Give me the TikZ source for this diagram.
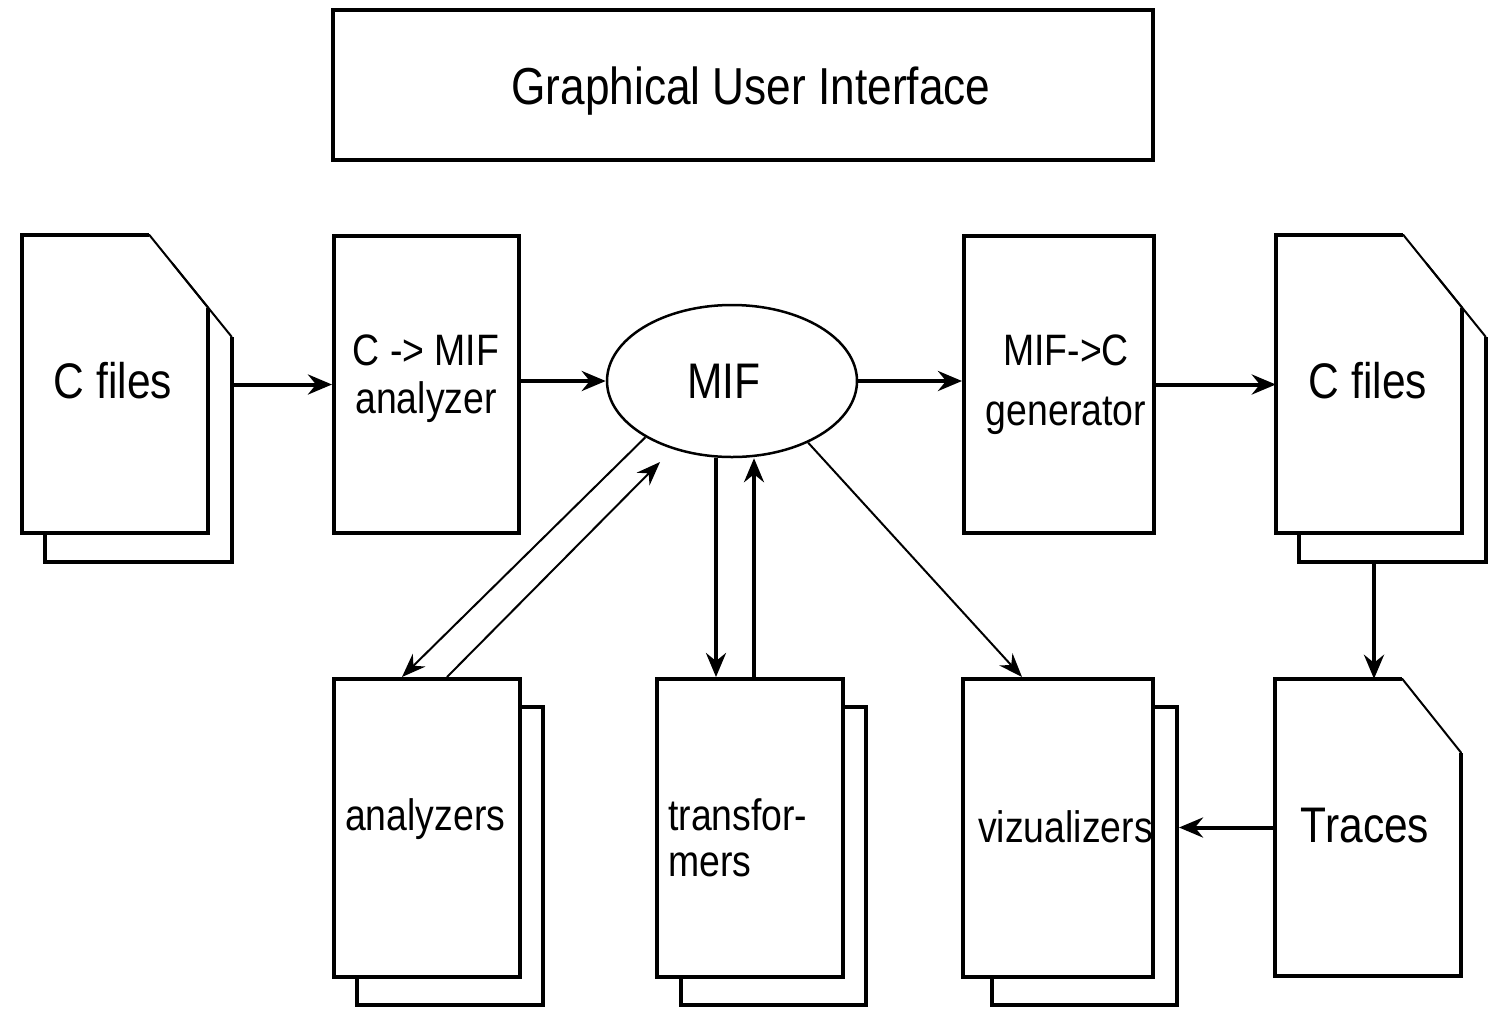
\documentclass[tikz,border=0pt]{standalone}
\usepackage{fontspec}
\setmainfont{Liberation Sans}[FakeStretch=0.85]
\usetikzlibrary{arrows.meta,shapes.geometric,calc}
\tikzset{
  pg/.style={draw, line width=4pt, fill=white, inner sep=0pt, minimum width=186pt, minimum height=298pt},
  ghost/.style={draw=none, inner sep=0pt, minimum width=186pt, minimum height=298pt},
  foldedge/.style={line width=4pt, line join=miter, line cap=butt},
  folddiag/.style={line width=2pt, line cap=round},
  big/.style={font=\fontsize{50}{60}\selectfont, inner sep=0pt},
  lbl/.style={font=\fontsize{44}{48}\selectfont, inner sep=0pt},
  thickarrow/.style={line width=4pt, -{Stealth[length=24pt,width=20pt,inset=8pt]}},
  midarrow/.style={line width=3.5pt, -{Stealth[length=24pt,width=20pt,inset=8pt]}},
  thinarrow/.style={line width=2pt, -{Stealth[length=24pt,width=18pt,inset=8pt]}},
}
% folded page body over a named ghost node: #1 node name, #2 vertical cut
\newcommand\mydocpage[2]{%
  \fill[white] (#1.south west) -- (#1.north west) -- ([xshift=-59pt]#1.north east) -- ([yshift=-#2pt]#1.north east) -- (#1.south east) -- cycle;
  \draw[foldedge] ([xshift=-59pt]#1.north east) -- (#1.north west) -- (#1.south west) -- (#1.south east) -- ([yshift=-#2pt]#1.north east);
}
% folded corner line
\newcommand\mydocfold[2]{%
  \draw[folddiag] ([xshift=-59pt]#1.north east) -- ([yshift=-#2pt]#1.north east);
}
\begin{document}
\begin{tikzpicture}[x=1pt,y=-1pt]
\useasboundingbox (0,0) rectangle (1494,1010);
\fill[white] (0,0) rectangle (1494,1010);

% GUI
\node[draw, line width=4pt, minimum width=820pt, minimum height=150pt, inner sep=0pt] (gui) at (743,85) {};
\node[inner sep=0pt, font=\fontsize{52}{60}\selectfont, anchor=base] (guit) at (751,104) {Graphical User Interface};

% left C files
\node[ghost] (cf1b) at (138.5,413) {};
\node[ghost] (cf1) at (115,384) {};
\mydocpage{cf1b}{73}
\mydocpage{cf1}{73}
\mydocfold{cf1b}{73}
\mydocfold{cf1}{73}
\node[big, anchor=base] (cf1t) at (113,398) {C files};

% analyzer box
\node[pg, minimum width=185pt, minimum height=297pt] (an) at (426.5,384.5) {};
\node[lbl, align=center, anchor=base] (ant) at (426,413) {C -> MIF\\analyzer};

% MIF ellipse
\node[ellipse, draw, line width=2.5pt, fill=white, minimum width=250pt, minimum height=152pt, inner sep=0pt] (mif) at (732,381) {};
\node[big, anchor=base] (mift) at (724,398) {MIF};

% generator box
\node[pg, minimum width=190pt, minimum height=297pt] (gen) at (1059,384.5) {};
\node[inner sep=0pt, font=\fontsize{44}{60}\selectfont, align=center, anchor=base] (gent) at (1066,425) {MIF->C\\generator};

% right C files
\node[ghost] (cf2b) at (1392.5,413) {};
\node[ghost] (cf2) at (1369,384) {};
\mydocpage{cf2b}{73}
\mydocpage{cf2}{73}
\mydocfold{cf2b}{73}
\mydocfold{cf2}{73}
\node[big, anchor=base] (cf2t) at (1368,398) {C files};

% Traces
\node[ghost, minimum height=297pt] (tr) at (1368,827.5) {};
\mydocpage{tr}{74}
\mydocfold{tr}{74}
\node[big, anchor=base] (trt) at (1365,842) {Traces};

% analyzers
\node[pg] (azb) at (450,856) {};
\node[pg] (az) at (427,828) {};
\node[lbl, anchor=base west] (azt) at (345,830) {analyzers};

% transformers
\node[pg, minimum width=185pt] (tfb) at (773.5,856) {};
\node[pg] (tf) at (750,828) {};
\node[inner sep=0pt, font=\fontsize{44}{46}\selectfont, align=left, anchor=base west] (tft) at (668,876) {transfor-\\mers};

% vizualizers
\node[pg, minimum width=185pt] (vzb) at (1084.5,856) {};
\node[pg, minimum width=190pt] (vz) at (1058,828) {};
\node[lbl, anchor=base west] (vzt) at (978,842) {vizualizers};

% connectors
\draw[thickarrow] (cf1b.east |- an.west) -- (an.west);
\draw[thickarrow] (an.east |- mif.west) -- (mif.west);
\draw[thickarrow] (mif.east) -- (gen.west |- mif.east);
\draw[thickarrow] (gen.east) -- (cf2.west |- gen.east);
\draw[thickarrow] ([xshift=6pt]tr.north |- cf2b.south) -- ([xshift=6pt]tr.north);
\draw[thickarrow] (tr.west) -- (vzb.east |- tr.west);
\draw[midarrow] ([xshift=-34pt]tf.north |- mif.south) -- ([xshift=-34pt]tf.north);
\draw[midarrow] ([xshift=4pt]tf.north) -- ([xshift=4pt]tf.north |- mif.south);
\draw[thinarrow] (mif.-147) -- ([xshift=-25pt]az.north);
\draw[thinarrow, shorten >=18pt] ([xshift=20pt]az.north) -- (mif.-131);
\draw[thinarrow] (mif.-39) -- ([xshift=-36pt]vz.north);
\end{tikzpicture}
\end{document}
